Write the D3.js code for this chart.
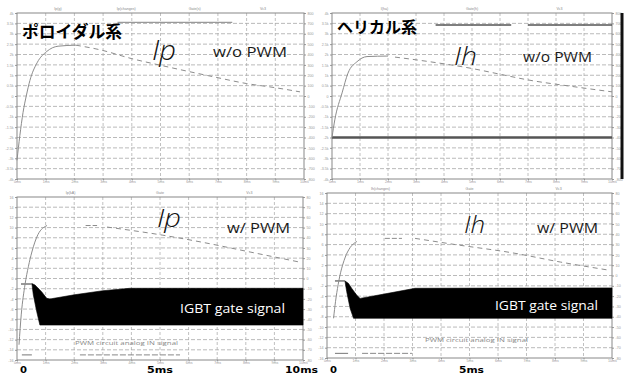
<!DOCTYPE html>
<html><head><meta charset="utf-8">
<script src="https://cdn.jsdelivr.net/npm/d3@7/dist/d3.min.js"></script>
<style>body{margin:0;background:#fff;overflow:hidden}svg{display:block}</style>
</head><body><svg id="c" width="627" height="374"></svg>
<script>
// ---------- data (time in ms, amplitude in screen divisions) ----------
const timeTicks = [0,1,2,3,4,5,6,7,8,9,10];
const timeLabels = ["0ms","1ms","2ms","3ms","4ms","5ms","6ms","7ms","8ms","9ms","10ms"];
const divTicks = [0,1,2,3,4,5,6,7,8,9,10,11,12,13,14,15,16];
const leftLabelsTop = ["-4k","-3.5k","-3k","-2.5k","-2k","-1.5k","-1k","-0.5k","0","0.5k","1k","1.5k","2k","2.5k","3k","3.5k","4k"];
const rightLabelsTop = ["-800","-700","-600","-500","-400","-300","-200","-100","0","100","200","300","400","500","600","700","800"];
const leftLabelsBottom = ["-16","-14","-12","-10","-8","-6","-4","-2","0","2","4","6","8","10","12","14","16"];
const rightLabelsBottom = ["-80","-70","-60","-50","-40","-30","-20","-10","0","10","20","30","40","50","60","70","80"];
const headersTL = ["Ip(g)","Ip(changes)","Gate(s)","Vc3"];
const headersTR = ["I(ha)","Gate(h)","Vc3"];
const headersBL = ["Ip(kA)","Gate","Vc3"];
const headersBR = ["Ih(changes)","Gate","Vc3"];

// top-left: poloidal, w/o PWM
const ipRiseNoPwm  = [[0,1.8],[0.1,4.2],[0.21,6.4],[0.33,8.1],[0.45,9.5],[0.7,11.2],[1.04,12.3],[1.43,12.8],[2.05,12.9]];
const ipDecayNoPwm = [[2.05,12.9],[2.9,12.45],[4,11.6],[5.1,10.9],[6,10.35],[6.85,9.85],[8,9.2],[9,8.8],[9.86,8.4]];
const poloidalTopTrace = [[3.5,15.1],[7.5,15.1]];

// top-right: helical, w/o PWM
const ihRiseNoPwm  = [[0,4],[0.1,5.7],[0.36,8.3],[0.57,10.2],[0.89,11.3],[1.25,11.8],[2.0,11.85]];
const ihDecayNoPwm = [[2.25,11.75],[3.5,11.3],[5,10.65],[6,10.1],[7,9.55],[8.5,8.95],[10,8.4]];
const helicalBase = [[0,4],[10,4]];
const helicalTopTraceA = [[3.7,14.85],[6.4,14.85]];
const helicalTopTraceB = [[7.0,14.85],[10,14.85]];

// bottom-left: poloidal, w/ PWM
const ipRisePwm  = [[0.07,1.5],[0.15,4.5],[0.28,7.4],[0.4,9.2],[0.52,10.6],[0.73,12.3],[1.05,13.2]];
const ipFlatPwm  = [[2.4,13.2],[2.8,13.2]];
const ipDecayPwm = [[3.15,13.05],[5.1,12.25],[6.4,11.6],[8.15,10.6],[9.9,9.6]];
const igbtTopL    = [[0.52,7.5],[0.63,7.36],[0.86,6.7],[1.04,6.05],[1.15,5.99],[2,6.4],[3,6.8],[3.95,7.04],[10,7.04]];
const igbtBottomL = [[0.52,7.5],[0.57,6.4],[0.69,4.74],[0.8,3.43],[10,3.43]];
const igbtPreL    = [[0.14,7.46],[0.52,7.46]];
const analogInLA  = [[0.17,0.5],[0.52,0.5]];
const analogInLB  = [[2.2,0.5],[5.7,0.5]];

// bottom-right: helical, w/ PWM
const ihRisePwm  = [[0.23,3.85],[0.3,5.5],[0.39,7.1],[0.63,9.7],[0.81,10.7],[1.05,11.3]];
const ihFlatPwm  = [[2.03,11.6],[2.63,11.6]];
const ihDecayPwm = [[3.09,11.6],[4.5,11.0],[6.5,10.2],[8.2,9.3],[9.93,8.5]];
const igbtTopR    = [[0.63,7.47],[0.75,7.24],[0.87,6.75],[1.04,6.1],[1.16,5.78],[2,6.2],[3.09,6.76],[10,6.8]];
const igbtBottomR = [[0.63,7.47],[0.69,6.45],[0.81,4.82],[0.93,3.85],[10,3.85]];
const igbtPreR    = [[0.28,7.47],[0.63,7.47]];
const analogInRA  = [[0.28,0.45],[0.74,0.45]];
const analogInRB  = [[1.23,0.45],[2.98,0.45]];

// ---------- drawing ----------
const svg = d3.select("#c");
svg.append("rect").attr("width",627).attr("height",374).attr("fill","#fff");

function panel(box, leftLabels, rightLabels, headers) {
  const g = svg.append("g");
  const x = d3.scaleLinear().domain([0,10]).range([box.x0, box.x1]);
  const y = d3.scaleLinear().domain([0,16]).range([box.y1, box.y0]);
  g.selectAll(".vg").data(timeTicks.slice(1,-1)).join("line")
    .attr("x1",d=>x(d)).attr("x2",d=>x(d)).attr("y1",box.y0).attr("y2",box.y1)
    .attr("stroke","#b0b0b0").attr("stroke-width",0.8).attr("stroke-dasharray","3,2");
  g.selectAll(".hg").data(divTicks.slice(1,-1)).join("line")
    .attr("x1",box.x0).attr("x2",box.x1).attr("y1",d=>y(d)).attr("y2",d=>y(d))
    .attr("stroke","#a8a8a8").attr("stroke-width",0.8).attr("stroke-dasharray","4,2");
  const tiny = s => s.selectAll("text").attr("font-size","3.6px").attr("fill","#999").attr("font-family","Liberation Sans");
  const clean = s => { s.select(".domain").remove(); s.selectAll("line").attr("stroke","#999"); };
  g.append("g").attr("transform",`translate(${box.x0},0)`)
    .call(d3.axisLeft(y).tickValues(divTicks).tickFormat((d,i)=>leftLabels[i]).tickSize(2).tickPadding(1.5))
    .call(tiny).call(clean);
  g.append("g").attr("transform",`translate(${box.x1},0)`)
    .call(d3.axisRight(y).tickValues(divTicks).tickFormat((d,i)=>rightLabels[i]).tickSize(2).tickPadding(1.5))
    .call(tiny).call(clean);
  g.append("g").attr("transform",`translate(0,${box.y1})`)
    .call(d3.axisBottom(x).tickValues(timeTicks).tickFormat((d,i)=>timeLabels[i]).tickSize(1.5).tickPadding(0.3))
    .call(tiny).call(clean);
  const hs = d3.scalePoint().domain(headers).range([box.x0, box.x1]).padding(0.6);
  g.selectAll(".hd").data(headers).join("text")
    .attr("x",d=>hs(d)).attr("y",box.y0-3).attr("text-anchor","middle")
    .attr("font-size","3.6px").attr("fill","#888").attr("font-family","Liberation Sans").text(d=>d);
  g.append("rect").attr("x",box.x0).attr("y",box.y0).attr("width",box.x1-box.x0).attr("height",box.y1-box.y0)
    .attr("fill","none").attr("stroke","#888").attr("stroke-width",1);
  return {g,x,y};
}

function trace(p, data, opts) {
  const line = d3.line().x(d=>p.x(d[0])).y(d=>p.y(d[1])).curve(opts.curve || d3.curveMonotoneX);
  p.g.append("path").attr("d",line(data)).attr("fill","none")
    .attr("stroke",opts.color || "#8c8c8c").attr("stroke-width",opts.width || 1)
    .attr("stroke-dasharray",opts.dash || null);
}
function blob(p, top, bottom) {
  const pts = top.concat(bottom.slice().reverse());
  const line = d3.line().x(d=>p.x(d[0])).y(d=>p.y(d[1])).curve(d3.curveLinearClosed);
  p.g.append("path").attr("d",line(pts)).attr("fill","#000").attr("stroke","#000").attr("stroke-width",0.6);
}
function label(p, txt, x, y, o) {
  const t = p.g.append("text").attr("x",x).attr("y",y).text(txt)
    .attr("font-family",o.family || "'Open Sans', sans-serif")
    .attr("font-size",o.size+"px").attr("fill",o.fill || "#1a1a1a")
    .attr("font-weight",o.weight || "normal").attr("font-style",o.style || "normal");
  if (o.len) t.attr("textLength",o.len).attr("lengthAdjust","spacingAndGlyphs");
  return t;
}

const TL = panel({x0:17,x1:304,y0:13,y1:179}, leftLabelsTop, rightLabelsTop, headersTL);
const TR = panel({x0:332,x1:612,y0:13,y1:179}, leftLabelsTop, rightLabelsTop, headersTR);
const BL = panel({x0:17,x1:303,y0:197,y1:360}, leftLabelsBottom, rightLabelsBottom, headersBL);
const BR = panel({x0:327,x1:612,y0:193,y1:358}, leftLabelsBottom, rightLabelsBottom, headersBR);

// top-left
trace(TL, poloidalTopTrace, {color:"#9a9a9a", width:1.2, curve:d3.curveLinear});
trace(TL, ipRiseNoPwm, {});
trace(TL, ipDecayNoPwm, {dash:"5,4"});
label(TL, "ポロイダル系", 22, 38, {family:"'Noto Sans CJK JP'", size:17, weight:"bold", fill:"#000", len:100});
label(TL, "Ip", 152, 60, {size:28, weight:300, style:"italic", len:24, fill:"#111"});
label(TL, "w/o PWM", 213, 57, {size:15, len:74});

// top-right
trace(TR, helicalBase, {color:"#555", width:2.6, curve:d3.curveLinear});
trace(TR, helicalTopTraceA, {color:"#555", width:1.4, curve:d3.curveLinear});
trace(TR, helicalTopTraceB, {color:"#555", width:1.4, curve:d3.curveLinear});
trace(TR, ihRiseNoPwm, {});
trace(TR, ihDecayNoPwm, {dash:"5,4"});
TR.g.append("line").attr("x1",622).attr("x2",622).attr("y1",TR.y(16)).attr("y2",TR.y(0))
  .attr("stroke","#111").attr("stroke-width",3);
label(TR, "ヘリカル系", 337, 33, {family:"'Noto Sans CJK JP'", size:16, weight:"bold", fill:"#000", len:80});
label(TR, "Ih", 454, 65, {size:26, weight:300, style:"italic", len:23, fill:"#111"});
label(TR, "w/o PWM", 523, 62, {size:14, len:69});

// bottom-left
blob(BL, igbtTopL, igbtBottomL);
trace(BL, igbtPreL, {color:"#333", width:1, curve:d3.curveLinear});
trace(BL, ipRisePwm, {});
trace(BL, ipFlatPwm, {dash:"5,2", curve:d3.curveLinear});
trace(BL, ipDecayPwm, {dash:"5,4"});
trace(BL, analogInLA, {color:"#777", width:1, curve:d3.curveLinear});
trace(BL, analogInLB, {color:"#888", width:1, dash:"6,2", curve:d3.curveLinear});
label(BL, "Ip", 157, 227, {size:26, weight:300, style:"italic", len:24, fill:"#111"});
label(BL, "w/ PWM", 227, 233, {size:15, len:63});
label(BL, "IGBT gate signal", 180, 313, {size:13, fill:"#fff", len:105});
label(BL, "PWM circuit analog IN signal", 75, 345, {size:6, fill:"#888", len:103});

// bottom-right
blob(BR, igbtTopR, igbtBottomR);
trace(BR, igbtPreR, {color:"#333", width:1, curve:d3.curveLinear});
trace(BR, ihRisePwm, {});
trace(BR, ihFlatPwm, {dash:"5,2", curve:d3.curveLinear});
trace(BR, ihDecayPwm, {dash:"5,4"});
trace(BR, analogInRA, {color:"#777", width:1, curve:d3.curveLinear});
trace(BR, analogInRB, {color:"#888", width:1, dash:"6,2", curve:d3.curveLinear});
label(BR, "Ih", 464, 233, {size:24, weight:300, style:"italic", len:21, fill:"#111"});
label(BR, "w/ PWM", 537, 233, {size:15, len:61});
label(BR, "IGBT gate signal", 495, 310, {size:13, fill:"#fff", len:103});
label(BR, "PWM circuit analog IN signal", 425, 342, {size:6, fill:"#888", len:103});

// large time annotations along bottom
const big = [["0",20,373,7],["5ms",147,373,26],["10ms",285,373,33],["0",330,373,7],["5ms",459,373,25]];
svg.selectAll(".big").data(big).join("text")
  .attr("x",d=>d[1]).attr("y",d=>d[2]).text(d=>d[0])
  .attr("font-family","'DejaVu Sans', sans-serif").attr("font-weight","bold").attr("font-size","8.5px")
  .attr("fill","#000").attr("textLength",d=>d[3]).attr("lengthAdjust","spacingAndGlyphs");
</script></body></html>
